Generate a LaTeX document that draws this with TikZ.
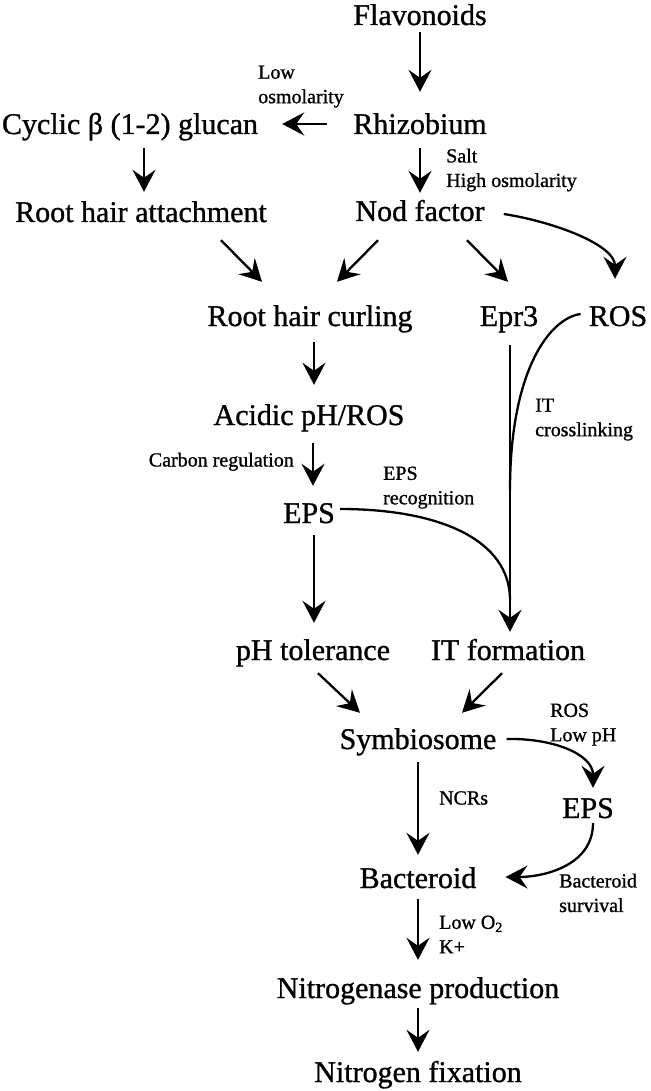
\documentclass[tikz,border=0pt]{standalone}
\usepackage{fontspec}
\setmainfont{Liberation Serif}[FakeBold=1.0]
\usetikzlibrary{arrows.meta,calc}
\tikzset{
  big/.style={font=\fontsize{30}{34}\selectfont, inner sep=0pt, text height=27pt, text depth=7pt},
  lab/.style={font=\fontsize{20}{24.5}\selectfont, inner sep=0pt, align=left, anchor=north west},
  labone/.style={font=\fontsize{20}{24.5}\selectfont, inner sep=0pt, text height=18pt, text depth=5pt},
  arr/.style={line width=2.3pt, -{Stealth[length=22pt,width=23pt,inset=8pt]}},
  ln/.style={line width=2.3pt},
}
\begin{document}
\begin{tikzpicture}[x=1pt,y=-1pt]
\fill[white] (0,0) rectangle (650,1091);
\useasboundingbox (0,0) rectangle (650,1091);

% main nodes
\node[big] (flav) at (420,15) {Flavonoids};
\node[big] (rhiz) at (420,124) {Rhizobium};
\node[big] (cyc) at (130,124) {Cyclic β (1-2) glucan};
\node[big] (nod) at (420,211) {Nod factor};
\node[big] (rha) at (141,212) {Root hair attachment};
\node[big] (rhc) at (310,316) {Root hair curling};
\node[big] (epr3) at (509,316) {Epr3};
\node[big] (ros) at (618,316) {ROS};
\node[big] (acid) at (309,415) {Acidic pH/ROS};
\node[big] (eps) at (309,513) {EPS};
\node[big] (pht) at (313,650) {pH tolerance};
\node[big] (itf) at (508,650) {IT formation};
\node[big] (sym) at (418,739) {Symbiosome};
\node[big] (eps2) at (588,808) {EPS};
\node[big] (bac) at (418,878) {Bacteroid};
\node[big] (nitro) at (418,988) {Nitrogenase production};
\node[big] (nfix) at (418,1072) {Nitrogen fixation};

% labels
\node[lab] (lowosm) at (258,65.4) {Low\\osmolarity};
\node[lab] (salt) at (446,148.4) {Salt\\High osmolarity};
\node[labone, anchor=east] (carbon) at (294,460) {Carbon regulation};
\node[lab] (epsrec) at (383,466.4) {EPS\\recognition};
\node[lab] (itcross) at (535,398.4) {IT\\crosslinking};
\node[lab] (roslow) at (550,703.4) {ROS\\Low pH};
\node[labone, anchor=west] (ncrs) at (439,798) {NCRs};
\node[lab] (bacsurv) at (559,873.4) {Bacteroid\\survival};
\node[lab] (lowo) at (439,915.4) {Low O\textsubscript{2}\\K+};

% junction points on the Epr3 line
\coordinate (j1) at (510,490);
\coordinate (j2) at (510,600);

% straight arrows
\draw[arr, shorten >=15pt] (flav.south) -- (rhiz.north);
\draw[arr, shorten <=7pt, shorten >=1pt] (rhiz.south) -- (nod.north);
\draw[arr, shorten <=26pt, shorten >=24pt] (rhiz.west) -- (cyc.east);
\draw[arr] ($(cyc.south)+(14,7)$) -- ($(rha.north)+(3,-3)$);
\draw[arr] ($(rha.south)+(80,11)$) -- ($(rhc.north)+(-48,-17)$);
\draw[arr] ($(nod.south)+(-42,12)$) -- ($(rhc.north)+(27,-17)$);
\draw[arr] ($(nod.south)+(47,12)$) -- ($(epr3.north)+(-1,-17)$);
\draw[arr] ($(nod.east)+(19,3)$) .. controls (555,222) and (615,245) .. ($(ros.north)+(-3,-20)$);

\draw[arr] ($(rhc.south)+(4,9)$) -- ($(acid.north)+(5,-13)$);
\draw[arr] ($(acid.south)+(4,11)$) -- ($(eps.north)+(4,-10)$);
\draw[arr] ($(eps.south)+(5,5)$) -- ($(pht.north)+(1,-10)$);
\draw[arr] ($(epr3.south)+(1,12)$) -- ($(itf.north)+(2,-1)$);
\draw[ln] ($(ros.west)+(-8,-2)$) .. controls (550,318) and (510,370) .. (j1);
\draw[ln] ($(eps.east)+(5,-4)$) .. controls (440,509) and (510,540) .. (j2);

\draw[arr] ($(pht.south)+(5,6)$) -- ($(sym.north)+(-58,-9)$);
\draw[arr] ($(itf.south)+(-6,6)$) -- ($(sym.north)+(44,-9)$);
\draw[arr] ($(sym.south)+(0,6)$) -- ($(bac.north)+(0,-6)$);
\draw[arr] ($(sym.east)+(10,0)$) .. controls (555,738) and (593,755) .. ($(eps2.north)+(5,-3)$);
\draw[arr] ($(eps2.south)+(5,-2)$) .. controls (593,865) and (545,877) .. ($(bac.east)+(29,-1)$);
\draw[arr] ($(bac.south)+(0,4)$) -- ($(nitro.north)+(0,-11)$);
\draw[arr] ($(nitro.south)+(0,3)$) -- ($(nfix.north)+(0,-3)$);
\end{tikzpicture}
\end{document}
